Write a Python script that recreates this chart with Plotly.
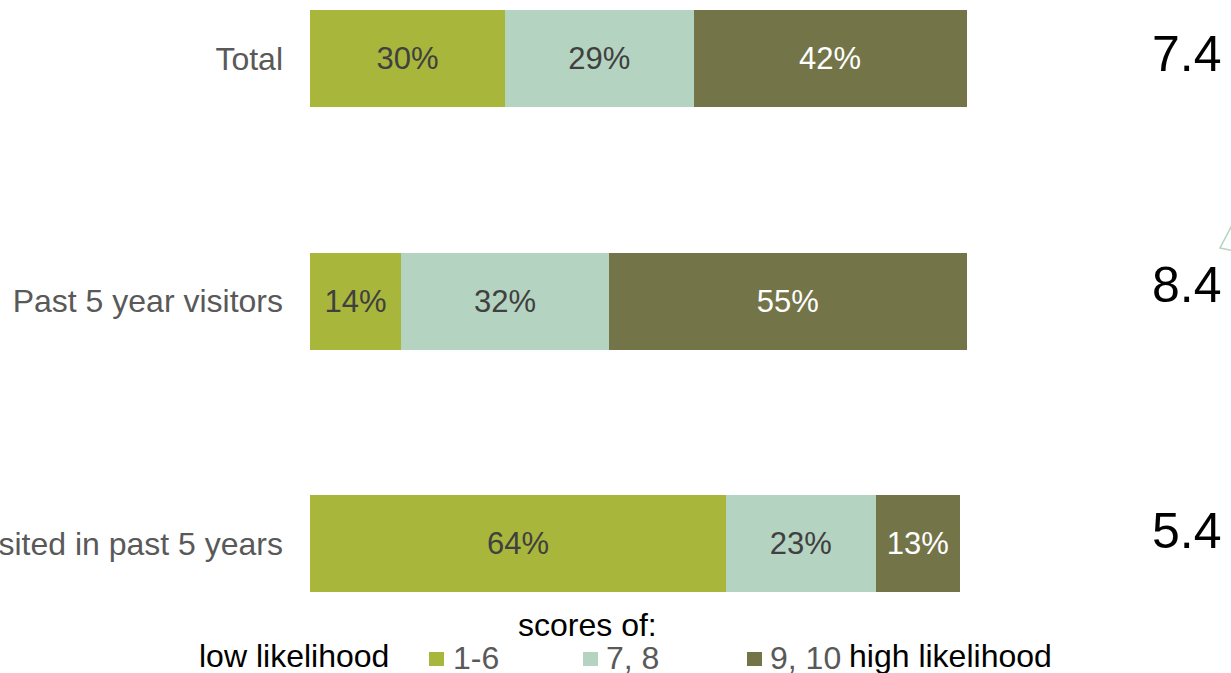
import plotly.graph_objects as go

# Survey groups (top to bottom) and share of respondents per score band
groups = ["Total", "Past 5 year visitors", "Have not visited in past 5 years"]
score_bands = ["1-6", "7, 8", "9, 10"]
shares = {
    "1-6": [30, 14, 64],
    "7, 8": [29, 32, 23],
    "9, 10": [42, 55, 13],
}
mean_scores = [7.4, 8.4, 5.4]

band_colors = {"1-6": "#A8B73C", "7, 8": "#B4D3C1", "9, 10": "#737448"}
band_text = {"1-6": "#404040", "7, 8": "#404040", "9, 10": "#FFFFFF"}

FONT = "Liberation Sans, Arial, sans-serif"
FS = 31      # value labels inside bars
FS_LBL = 32  # group names and legend
W, H = 1231, 673
ML = 310          # left margin, px
PX_PER_PCT = 6.5  # horizontal scale of the bars
X_MAX = 110
PW = PX_PER_PCT * X_MAX


def px_x(p):
    return (p - ML) / PW


def px_y(p):
    return (H - p) / H


fig = go.Figure()
for band in score_bands:
    fig.add_trace(go.Bar(
        y=groups,
        x=shares[band],
        name=band,
        orientation="h",
        width=0.4,
        marker=dict(color=band_colors[band], line=dict(width=0)),
        texttemplate="%{x}%",
        textposition="inside",
        insidetextanchor="middle",
        constraintext="none",
        textfont=dict(family=FONT, size=FS, color=band_text[band]),
        hoverinfo="skip",
        showlegend=False,
    ))

# mean score to the right of each bar
mean_shift = [4, 16, 13]
for g, m, s in zip(groups, mean_scores, mean_shift):
    fig.add_annotation(
        x=px_x(1224), xref="paper", y=g, yref="y", yshift=s,
        text=f"{m:.1f}", showarrow=False, xanchor="right",
        font=dict(family=FONT, size=50, color="#000000"),
    )

# legend: swatch + label per score band
swatch_left = [429, 583, 747]
label_left = [454, 607, 771]
LEG_Y = 659
for band, sx, tx in zip(score_bands, swatch_left, label_left):
    fig.add_shape(
        type="rect", xref="paper", yref="paper",
        x0=px_x(sx), x1=px_x(sx + 15), y0=px_y(LEG_Y + 7), y1=px_y(LEG_Y - 7),
        fillcolor=band_colors[band], line=dict(width=0),
    )
    fig.add_annotation(
        x=px_x(tx), xref="paper", y=px_y(LEG_Y - 1), yref="paper",
        text=band, showarrow=False, xanchor="left", yanchor="middle",
        xshift=-2, borderpad=0,
        font=dict(family=FONT, size=FS_LBL, color="#595959"),
    )

fig.add_annotation(
    x=px_x(587), xref="paper", y=px_y(625), yref="paper",
    text="scores of:", showarrow=False, xanchor="center", yanchor="middle",
    font=dict(family=FONT, size=FS_LBL, color="#000000"),
)
fig.add_annotation(
    x=px_x(388), xref="paper", y=px_y(656), yref="paper",
    text="low likelihood", showarrow=False, xanchor="right", yanchor="middle",
    xshift=2, borderpad=0,
    font=dict(family=FONT, size=FS_LBL, color="#000000"),
)
fig.add_annotation(
    x=px_x(850), xref="paper", y=px_y(656), yref="paper",
    text="high likelihood", showarrow=False, xanchor="left", yanchor="middle",
    xshift=-2, borderpad=0,
    font=dict(family=FONT, size=FS_LBL, color="#000000"),
)

# corner of a callout outline at the right edge
fig.add_shape(
    type="path", xref="paper", yref="paper",
    path=(f"M {px_x(1240)},{px_y(210)} L {px_x(1220)},{px_y(248)} "
          f"L {px_x(1240)},{px_y(252)}"),
    line=dict(color="#B4D3C1", width=1.5),
)

fig.update_layout(
    width=W, height=H,
    barmode="stack",
    margin=dict(l=ML, r=W - ML - PW, t=0, b=0, autoexpand=False),
    paper_bgcolor="white", plot_bgcolor="white",
    font=dict(family=FONT, color="#595959"),
    xaxis=dict(range=[0, X_MAX], visible=False, fixedrange=True),
    yaxis=dict(
        type="category",
        range=[2.534, -0.2412],
        showgrid=False, zeroline=False, showline=False,
        ticks="", ticklabelstandoff=26, automargin=False,
        tickfont=dict(family=FONT, size=FS_LBL, color="#595959"),
        fixedrange=True,
    ),
    showlegend=False,
)

fig.write_html("out.html")
